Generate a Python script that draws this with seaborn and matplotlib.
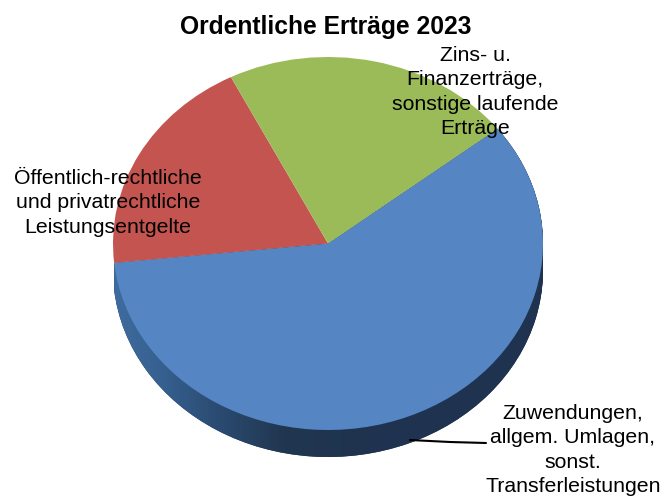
import numpy as np
import matplotlib
matplotlib.use("Agg")
import matplotlib.pyplot as plt
from matplotlib.colors import LinearSegmentedColormap
from matplotlib.lines import Line2D
import seaborn as sns

categories = ["Zuwendungen,\nallgem. Umlagen,\nsonst.\nTransferleistungen",
              "Öffentlich-rechtliche\nund privatrechtliche\nLeistungsentgelte",
              "Zins- u.\nFinanzerträge,\nsonstige laufende\nErträge"]
values = [58.9, 19.2, 21.9]
title = "Ordentliche Erträge 2023"

W, H = 663, 496
CX, CY, RX, RY, DEPTH = 328, 243.5, 215, 186.5, 27
START = 38

sns.set_theme(style="white")
plt.rcParams["font.family"] = ["Liberation Sans", "DejaVu Sans"]
palette = sns.color_palette(["#5585C2", "#C4544F", "#9BBB59"])

fig = plt.figure(figsize=(W / 100, H / 100), dpi=100)
ax = fig.add_axes([0, 0, 1, 1])
xlim = (-CX / RX, (W - CX) / RX)
ylim = (-(H - CY) / RY, CY / RY)

# side of the disc: a horizontal shade clipped to shifted copies of the blue slice
shade = LinearSegmentedColormap.from_list(
    "side", [(0, "#3F6C9F"), (0.12, "#355F8E"), (0.25, "#2A4A70"), (0.4, "#21364F"), (0.6, "#1F3350"), (1, "#1F3350")])
gradient = np.linspace(0, 1, 256).reshape(1, -1)
for step in np.linspace(DEPTH / RY, 0, 15):
    wedges, _ = ax.pie([values[0], sum(values[1:])], startangle=START, counterclock=False,
                       center=(0, -step), colors=["#1F3350", "none"], frame=True,
                       wedgeprops={"linewidth": 0})
    im = ax.imshow(gradient, cmap=shade, extent=(-1, 1, -1.3, 1), aspect="auto", zorder=1)
    im.set_clip_path(wedges[0])
    wedges[0].set_zorder(0.5)

# top face
wedges, _ = ax.pie(values, startangle=START, counterclock=False, colors=palette, frame=True,
                   wedgeprops={"linewidth": 0})
for w in wedges:
    w.set_zorder(2)

ax.set_xlim(*xlim)
ax.set_ylim(*ylim)
ax.set_aspect("auto")
ax.axis("off")

def px(x, y):
    return x / W, 1 - y / H

fig.add_artist(Line2D([410 / W, 450 / W, 486 / W], [1 - 440 / H, 1 - 442 / H, 1 - 443 / H],
                      color="black", lw=1.5, zorder=5))

label_pos = [(573, 450), (108, 203), (475, 92)]
for text, (x, y) in zip(categories, label_pos):
    fig.text(*px(x, y), text, ha="center", va="center", fontsize=15.3,
             color="black", linespacing=1.35, zorder=6)
fig.text(*px(326, 27), title, ha="center", va="center", fontsize=17.7,
         fontweight="bold", color="black", zorder=6)

fig.savefig("out.png", dpi=100, facecolor="white")
